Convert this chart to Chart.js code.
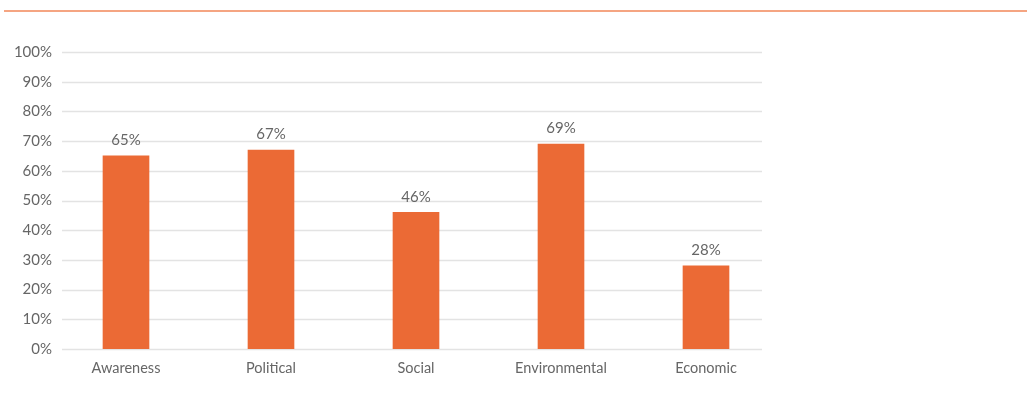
<!DOCTYPE html>
<html>
<head>
<meta charset="utf-8">
<script src="https://cdn.jsdelivr.net/npm/chart.js@4/dist/chart.umd.min.js"></script>
<style>
  html, body { margin: 0; padding: 0; background: #ffffff; }
  #wrap { width: 1027px; height: 403px; position: relative; }
</style>
</head>
<body>
<div id="wrap"><canvas id="chart" width="1027" height="403"></canvas></div>
<script>
// Share of respondents by dimension
const categories = ['Awareness', 'Political', 'Social', 'Environmental', 'Economic'];
const shares = [65, 67, 46, 69, 28];
const yTicks = [0, 10, 20, 30, 40, 50, 60, 70, 80, 90, 100];

const FONT = 'Lato, "Open Sans", sans-serif';
const TEXT = '#666666';
const BAR = '#eb6a35';

// Thin accent rule across the top of the page
const topRule = {
  id: 'topRule',
  beforeDraw(chart) {
    const ctx = chart.ctx;
    ctx.save();
    ctx.strokeStyle = '#f5a582';
    ctx.lineWidth = 2;
    ctx.beginPath();
    ctx.moveTo(4, 11);
    ctx.lineTo(chart.width, 11);
    ctx.stroke();
    ctx.restore();
  }
};

// Horizontal gridlines, inset from the category band edges
const insetGrid = {
  id: 'insetGrid',
  beforeDatasetsDraw(chart) {
    const ctx = chart.ctx;
    const y = chart.scales.y;
    const x0 = 62, x1 = 762;
    ctx.save();
    ctx.strokeStyle = '#e3e3e3';
    ctx.lineWidth = 1.5;
    yTicks.forEach(v => {
      const py = Math.round(y.getPixelForValue(v)) + 0.5;
      ctx.beginPath();
      ctx.moveTo(x0, py);
      ctx.lineTo(x1, py);
      ctx.stroke();
    });
    ctx.restore();
  }
};

// Percentage labels above each bar
const valueLabels = {
  id: 'valueLabels',
  afterDatasetsDraw(chart) {
    const ctx = chart.ctx;
    const meta = chart.getDatasetMeta(0);
    ctx.save();
    ctx.font = '15px ' + FONT;
    ctx.fillStyle = TEXT;
    ctx.textAlign = 'center';
    ctx.textBaseline = 'bottom';
    meta.data.forEach((bar, i) => {
      ctx.fillText(shares[i] + '%', bar.x, bar.y - 8);
    });
    ctx.restore();
  }
};

new Chart(document.getElementById('chart'), {
  type: 'bar',
  data: {
    labels: categories,
    datasets: [{
      data: shares,
      backgroundColor: BAR,
      borderWidth: 0,
      barThickness: 46
    }]
  },
  options: {
    responsive: false,
    animation: false,
    events: [],
    layout: { padding: { top: 52, right: 248.5, left: 0, bottom: 0 } },
    plugins: { legend: { display: false }, tooltip: { enabled: false } },
    scales: {
      x: {
        grid: { display: false },
        border: { display: false },
        ticks: { color: TEXT, font: { family: FONT, size: 14.5 }, padding: 3, maxRotation: 0 },
        afterFit(scale) { scale.height = 403 - 349; }
      },
      y: {
        min: 0,
        max: 100,
        afterBuildTicks(scale) { scale.ticks = yTicks.map(v => ({ value: v })); },
        grid: { display: false, drawTicks: false },
        border: { display: false },
        ticks: {
          color: TEXT,
          font: { family: FONT, size: 15 },
          padding: 1.5,
          callback: v => v + '%'
        },
        afterFit(scale) { scale.width = 53.5; }
      }
    }
  },
  plugins: [topRule, insetGrid, valueLabels]
});
</script>
</body>
</html>
